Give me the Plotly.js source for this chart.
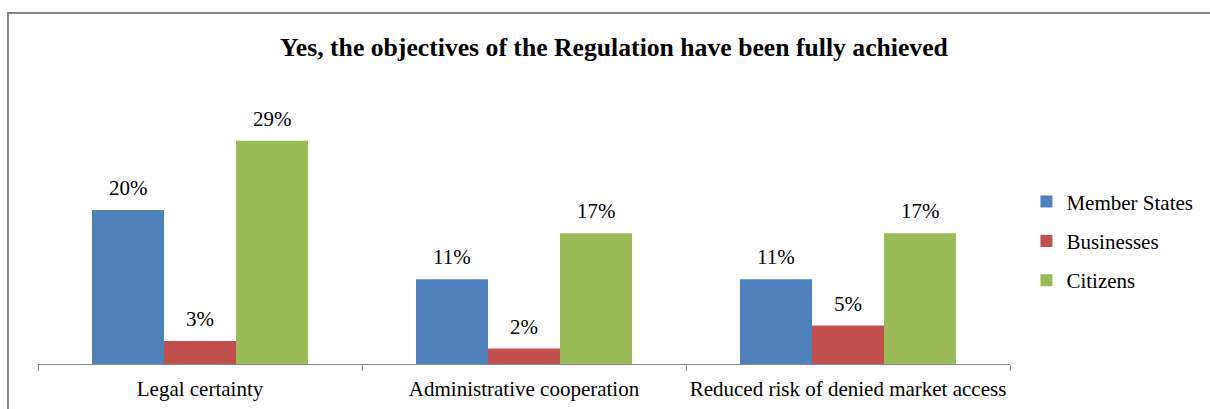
<!DOCTYPE html>
<html>
<head>
<meta charset="utf-8">
<script src="https://cdn.plot.ly/plotly-3.0.1.min.js"></script>
<style>
html,body{margin:0;padding:0;background:#fff;}
#chart{width:1210px;height:409px;}
</style>
</head>
<body>
<div id="chart"></div>
<script>
const categories = ["Legal certainty", "Administrative cooperation", "Reduced risk of denied market access"];
const seriesNames = ["Member States", "Businesses", "Citizens"];
const memberStates = [0.20, 0.11, 0.11];
const businesses = [0.03, 0.02, 0.05];
const citizens = [0.29, 0.17, 0.17];
const colors = ["#4F81BD", "#C0504D", "#9BBB59"];
const titleText = "Yes, the objectives of the Regulation have been fully achieved";

const allSeries = [memberStates, businesses, citizens];
const font = "'Liberation Serif', 'Times New Roman', serif";

const traces = allSeries.map((vals, i) => ({
  type: "bar",
  name: seriesNames[i],
  x: categories,
  y: vals,
  marker: {color: colors[i], line: {width: 0}},
  legendgroup: "g" + i,
  hoverinfo: "skip"
}));

const barPx = 72;
const annotations = [];
allSeries.forEach((vals, i) => {
  vals.forEach((v, j) => {
    annotations.push({
      x: categories[j], y: v, xref: "x", yref: "y",
      text: Math.round(v * 100) + "%",
      showarrow: false,
      xshift: (i - 1) * barPx,
      yanchor: "middle",
      yshift: 22,
      font: {family: font, size: 21, color: "#000"}
    });
  });
});

const layout = {
  width: 1210, height: 409,
  margin: {l: 38, r: 200, t: 90, b: 45},
  paper_bgcolor: "#fff", plot_bgcolor: "#fff",
  title: {text: "<b>" + titleText + "</b>", font: {family: font, size: 25.7, color: "#000"},
          x: 614 / 1210, xanchor: "center", xref: "container", y: 1 - 47 / 409, yref: "container", yanchor: "middle"},
  barmode: "group",
  bargap: 1/3,
  bargroupgap: 0,
  xaxis: {
    type: "category",
    showline: true, linecolor: "#868686", linewidth: 1,
    ticks: "outside", tickson: "boundaries", ticklen: 6, tickcolor: "#868686", tickwidth: 1,
    tickangle: 0, ticklabelstandoff: 6,
    tickfont: {family: font, size: 21, color: "#000"},
    showgrid: false, zeroline: false, fixedrange: true
  },
  yaxis: {
    range: [0, 0.356], visible: false, showgrid: false, zeroline: false, fixedrange: true
  },
  showlegend: true,
  legend: {
    x: 1.0169, xanchor: "left", y: 0.449, yanchor: "middle",
    font: {family: font, size: 21, color: "#000"},
    traceorder: "grouped", tracegroupgap: 9,
    bgcolor: "rgba(0,0,0,0)", itemclick: false, itemdoubleclick: false
  },
  annotations: annotations,
  shapes: [{
    type: "rect", xref: "paper", yref: "paper",
    x0: -0.0309, x1: 1.25, y0: -0.25, y1: 1.281,
    line: {color: "#868686", width: 2}, fillcolor: "rgba(0,0,0,0)", layer: "below"
  }]
};

Plotly.newPlot("chart", traces, layout, {displayModeBar: false, staticPlot: true});
</script>
</body>
</html>
